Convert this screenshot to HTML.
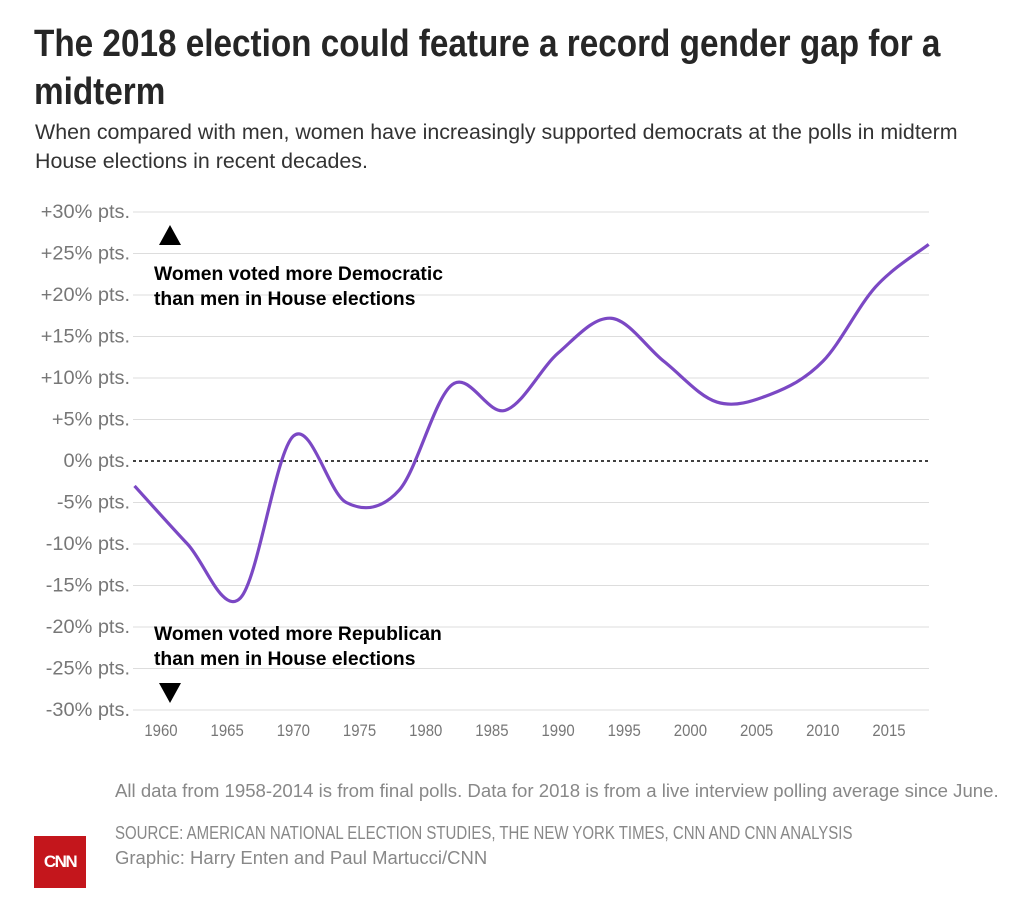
<!DOCTYPE html>
<html><head><meta charset="utf-8">
<style>
body{margin:0;background:#fff;width:1032px;height:902px;overflow:hidden;font-family:"Liberation Sans",sans-serif;position:relative}
.t{position:absolute;margin:0;white-space:nowrap}
</style></head><body>
<h1 class="t" style="left:34px;top:20px;font-weight:bold;font-size:38px;line-height:48px;color:#262626;transform:scaleX(0.876);transform-origin:left top">The 2018 election could feature a record gender gap for a<br>midterm</h1>
<p class="t" style="left:35px;top:118px;font-size:21.4px;line-height:29px;color:#333">When compared with men, women have increasingly supported democrats at the polls in midterm<br>House elections in recent decades.</p>
<svg id="chart" width="1032" height="760" style="position:absolute;left:0;top:0"></svg>
<p class="t" style="left:115px;top:780px;font-size:18.6px;color:#888">All data from 1958-2014 is from final polls. Data for 2018 is from a live interview polling average since June.</p>
<p class="t" style="left:115px;top:821px;font-size:18.5px;line-height:24px;color:#888;transform:scaleX(0.81);transform-origin:left top">SOURCE: AMERICAN NATIONAL ELECTION STUDIES, THE NEW YORK TIMES, CNN AND CNN ANALYSIS</p>
<p class="t" style="left:115px;top:846px;font-size:18.5px;line-height:24px;color:#888">Graphic: Harry Enten and Paul Martucci/CNN</p>
<div style="position:absolute;left:34px;top:836px;width:52px;height:52px;background:#c4161c;color:#fff;font:bold 17px 'Liberation Sans',sans-serif;display:flex;align-items:center;justify-content:center;letter-spacing:-1.5px">CNN</div>
<script>
const years=[1958,1962,1966,1970,1974,1978,1982,1986,1990,1994,1998,2002,2006,2010,2014,2018];
const gap=[-3,-10,-16.5,3,-5,-3.5,9.2,6.1,13,17.2,12,7.1,8,12,21,26.1];
const yTicks=[30,25,20,15,10,5,0,-5,-10,-15,-20,-25,-30];
const xTicks=[1960,1965,1970,1975,1980,1985,1990,1995,2000,2005,2010,2015];
const NS="http://www.w3.org/2000/svg";
const svg=document.getElementById('chart');
const X=y=>161+(y-1960)*13.236;
const Y=v=>461-v*8.3;
const x0=133,x1=929;
function mk(t,a){const e=document.createElementNS(NS,t);for(const k in a)e.setAttribute(k,a[k]);svg.appendChild(e);return e;}
yTicks.forEach(v=>{
  if(v!==0){const l=mk('line',{x1:x0,x2:x1,y1:Y(v),y2:Y(v),stroke:'#ddd','stroke-width':1});
  
  }
  const t=mk('text',{x:130,y:Y(v)+6,'text-anchor':'end','font-size':19,fill:'#777',transform:'translate(130 0) scale(1.05 1) translate(-130 0)'});
  t.textContent=(v>0?'+':'')+v+'% pts.';
  
  
});
const z=mk('line',{x1:x0,x2:x1,y1:Y(0),y2:Y(0),stroke:'#000','stroke-width':1.5,'stroke-dasharray':'3,3'});


xTicks.forEach(v=>{
  const t=mk('text',{x:X(v),y:736,'text-anchor':'middle','font-size':17,fill:'#777',transform:`translate(${X(v)} 0) scale(0.88 1) translate(${-X(v)} 0)`});
  t.textContent=v;
  
  
});
const P=years.map((y,i)=>[X(y),Y(gap[i])]);
let d='M'+P[0][0]+','+P[0][1];
for(let i=0;i<P.length-1;i++){
  const p0=P[i-1]||P[i],p1=P[i],p2=P[i+1],p3=P[i+2]||P[i+1];
  const c1=[p1[0]+(p2[0]-p0[0])/6,p1[1]+(p2[1]-p0[1])/6];
  const c2=[p2[0]-(p3[0]-p1[0])/6,p2[1]-(p3[1]-p1[1])/6];
  d+=' C'+c1+' '+c2+' '+p2;
}
const line=mk('path',{d:d,fill:'none',stroke:'#7b48c4','stroke-width':3.2,'stroke-linejoin':'round'});


const up=mk('polygon',{points:'159,245 181,245 170,225',fill:'#000'});


const dn=mk('polygon',{points:'159,683 181,683 170,703',fill:'#000'});


[["Women voted more Democratic",280],["than men in House elections",305],["Women voted more Republican",640],["than men in House elections",665]].forEach(a=>{
  const t=mk('text',{x:154,y:a[1],'font-size':19.3,'font-weight':'bold',fill:'#000'});
  t.textContent=a[0];
  
  
});
</script>
</body></html>
